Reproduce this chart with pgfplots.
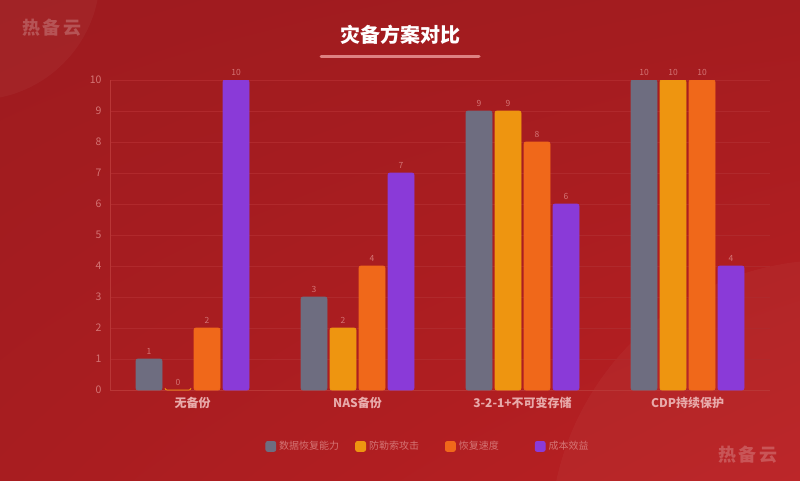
\documentclass[border=0pt]{standalone}
\usepackage{fontspec}
\setmainfont{Noto Sans CJK SC}
\usepackage{pgfplots}
\pgfplotsset{compat=1.18}
\usetikzlibrary{shadings}
\definecolor{cGray}{HTML}{6E6D80}
\definecolor{cYel}{HTML}{EE9510}
\definecolor{cOra}{HTML}{F0681A}
\definecolor{cPur}{HTML}{8A3AD8}
\definecolor{tickc}{HTML}{D47474}
\definecolor{labc}{HTML}{E8AAAA}
\definecolor{gridc}{HTML}{B0292C}
\definecolor{axc}{HTML}{B93636}
\definecolor{bgUL}{HTML}{9E1B1F}
\definecolor{bgUR}{HTML}{A41C1F}
\definecolor{bgLL}{HTML}{A81D20}
\definecolor{bgLR}{HTML}{BA2023}
\definecolor{ulc}{HTML}{DE8282}
\begin{document}
\begin{tikzpicture}
\shade[upper left=bgUL, upper right=bgUR, lower left=bgLL, lower right=bgLR] (0pt,0pt) rectangle (800pt,480pt);
\begin{scope}
\clip (0pt,0pt) rectangle (800pt,480pt);
\fill[white,opacity=0.035] (-25pt,505pt) circle (125pt);
\fill[white,opacity=0.03] (830pt,-60pt) circle (280pt);
\end{scope}
\node[text=white,opacity=0.22,font=\fontsize{18}{18}\selectfont\bfseries\addfontfeature{LetterSpace=15}] at (52pt,452pt) {热备云};
\node[text=white,opacity=0.22,font=\fontsize{18}{18}\selectfont\bfseries\addfontfeature{LetterSpace=15}] at (748pt,25pt) {热备云};
\node[text=white,font=\fontsize{20}{20}\selectfont\bfseries] at (400pt,445pt) {灾备方案对比};
\draw[line width=3pt, line cap=round, color=ulc] (321pt,423pt) -- (479pt,423pt);
\begin{axis}[
  at={(110pt,90pt)}, anchor=south west, scale only axis,
  width=660pt, height=310pt,
  xmin=-0.5, xmax=3.5, ymin=0, ymax=10,
  ytick={0,1,...,10}, xtick={0,1,2,3},
  xticklabels={无备份,NAS备份,3-2-1+不可变存储,CDP持续保护},
  /pgf/number format/assume math mode=true,
  yticklabel style={text=tickc, font=\fontsize{10.5}{10.5}\selectfont, xshift=-5pt},
  xticklabel style={text=labc, font=\fontsize{12}{12}\selectfont\bfseries, yshift=-4pt},
  major tick length=0pt,
  axis lines*=left,
  axis line style={draw=axc, line width=1pt, -},
  ymajorgrids, grid style={draw=gridc, line width=1pt},
  ybar=3pt, bar width=26pt,
  legend image code/.code={\fill[#1] (0pt,-5pt) rectangle (10pt,5pt);},
  nodes near coords,
  every node near coord/.append style={text=tickc, font=\fontsize{8.5}{8.5}\selectfont, yshift=1pt},
  legend columns=4,
  legend style={at={(0.5,-0.182)}, anchor=center, draw=none, fill=none,
    font=\fontsize{10}{10}\selectfont, text=tickc,
    /tikz/every odd column/.append style={column sep=1pt},
    /tikz/every even column/.append style={column sep=10pt}},
]
\addplot[fill=cGray, draw=cGray, line width=0.8pt, rounded corners=2pt] coordinates {(0,1) (1,3) (2,9) (3,10)};
\addplot[fill=cYel, draw=cYel, line width=0.8pt, rounded corners=2pt] coordinates {(0,0) (1,2) (2,9) (3,10)};
\addplot[fill=cOra, draw=cOra, line width=0.8pt, rounded corners=2pt] coordinates {(0,2) (1,4) (2,8) (3,10)};
\addplot[fill=cPur, draw=cPur, line width=0.8pt, rounded corners=2pt] coordinates {(0,10) (1,7) (2,6) (3,4)};
\legend{\makebox[64pt][l]{数据恢复能力},\makebox[64pt][l]{防勒索攻击},\makebox[64pt][l]{恢复速度},\makebox[64pt][l]{成本效益}}
\end{axis}
\end{tikzpicture}
\end{document}
